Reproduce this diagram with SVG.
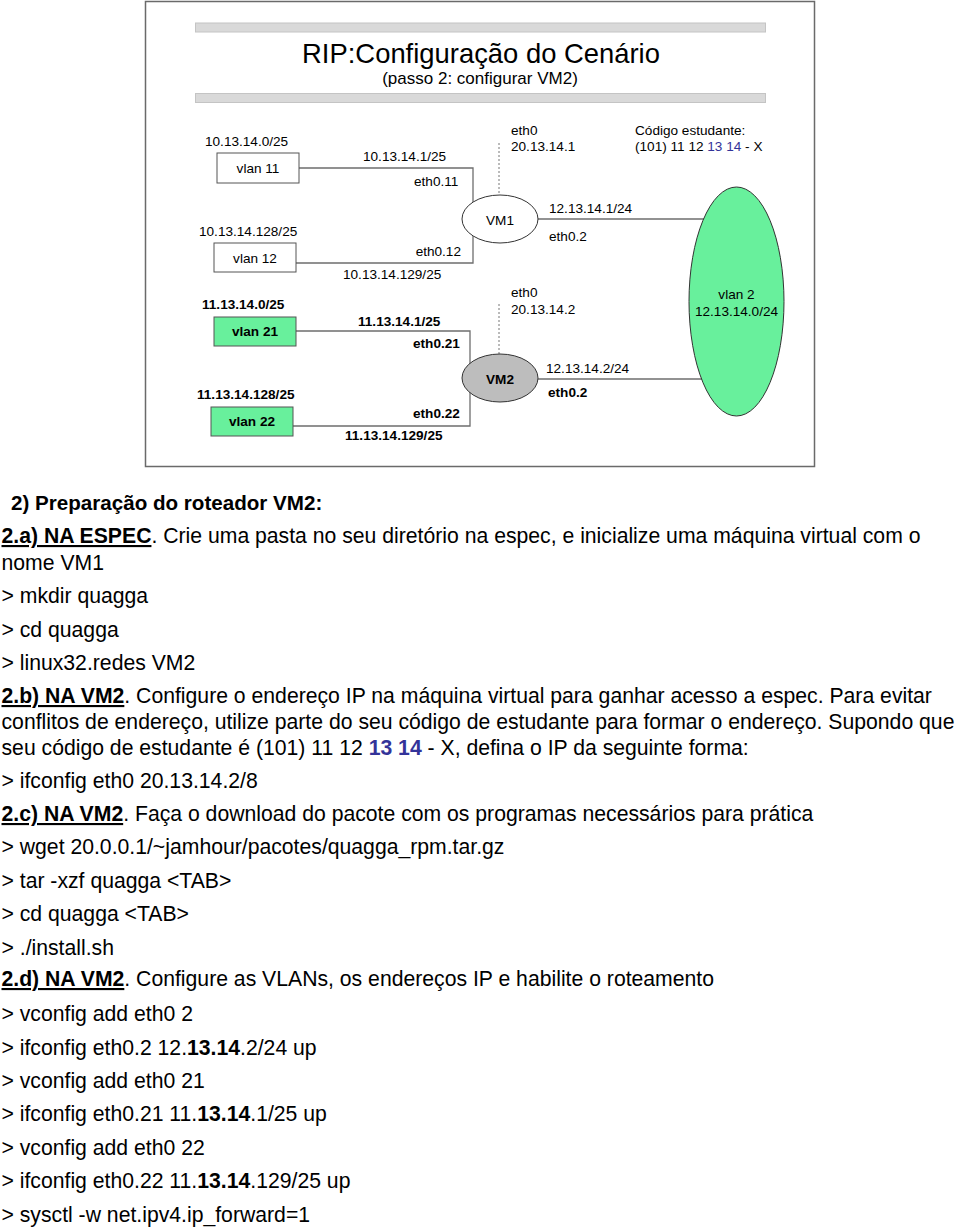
<svg xmlns="http://www.w3.org/2000/svg" width="960" height="1228" viewBox="0 0 960 1228">
<style>
text{font-family:"Liberation Sans",Arial,sans-serif;fill:#000}
.lb{font-size:13.6px}
.b{font-weight:bold}
.body{font-size:21.2px}
.head{font-size:20.6px;font-weight:bold}
.u{font-weight:bold;text-decoration:underline}
.blue{fill:#333399}
.ln{fill:none;stroke:#6e6e6e;stroke-width:1.3}
.dash{fill:none;stroke:#777;stroke-width:1;stroke-dasharray:2,2}
.box{fill:#fff;stroke:#555;stroke-width:1}
.gbox{fill:#68f09c;stroke:#555;stroke-width:1}
.bar{fill:#d9d9d9;stroke:#c4c4c4;stroke-width:1}
</style>
<rect x="0" y="0" width="960" height="1228" fill="#fff"/>
<rect x="145.5" y="1.5" width="669" height="465" fill="#fff" stroke="#6a6a6a" stroke-width="1.5"/>
<rect class="bar" x="195.5" y="23" width="570" height="9"/>
<rect class="bar" x="195.5" y="93.5" width="570" height="9"/>
<text x="481" y="63" font-size="27.4" text-anchor="middle">RIP:Configuração do Cenário</text>
<text x="480" y="84" font-size="17" text-anchor="middle">(passo 2: configurar VM2)</text>

<g id="connectors">
<polyline class="ln" points="299,168 473,168 473,263 296,263"/>
<polyline class="ln" points="296,331 470,331 470,426 293,426"/>
<line class="ln" x1="538" y1="219" x2="704" y2="219"/>
<line class="ln" x1="538" y1="379" x2="702" y2="379"/>
<line class="dash" x1="499" y1="143" x2="499" y2="195"/>
<line class="dash" x1="499" y1="304" x2="499" y2="354"/>
</g>

<g id="vlan11"><rect class="box" x="217" y="153" width="82" height="30"/><text class="lb" x="258" y="173" text-anchor="middle">vlan 11</text></g>
<g id="vlan12"><rect class="box" x="214" y="243" width="82" height="29"/><text class="lb" x="255" y="263" text-anchor="middle">vlan 12</text></g>
<g id="vlan21"><rect class="gbox" x="214" y="317" width="82" height="29"/><text class="lb b" x="255" y="336" text-anchor="middle">vlan 21</text></g>
<g id="vlan22"><rect class="gbox" x="211" y="407" width="82" height="29"/><text class="lb b" x="252" y="426" text-anchor="middle">vlan 22</text></g>
<g id="vm1"><ellipse cx="500" cy="219" rx="38" ry="24" fill="#fff" stroke="#333" stroke-width="1"/><text class="lb" x="500" y="225" text-anchor="middle">VM1</text></g>
<g id="vm2"><ellipse cx="500" cy="378" rx="38" ry="24" fill="#bdbdbd" stroke="#333" stroke-width="1"/><text class="lb b" x="500" y="384" text-anchor="middle">VM2</text></g>
<g id="vlan2"><ellipse cx="736.5" cy="301.5" rx="47.5" ry="114.5" fill="#68f09c" stroke="#333" stroke-width="1"/><text class="lb" x="736.5" y="299" text-anchor="middle">vlan 2</text><text class="lb" x="736.5" y="316" text-anchor="middle">12.13.14.0/24</text></g>

<g id="labels">
<text class="lb" x="205" y="146">10.13.14.0/25</text>
<text class="lb" x="363" y="161">10.13.14.1/25</text>
<text class="lb" x="414" y="186">eth0.11</text>
<text class="lb" x="199" y="236">10.13.14.128/25</text>
<text class="lb" x="461" y="256" text-anchor="end">eth0.12</text>
<text class="lb" x="343" y="279">10.13.14.129/25</text>
<text class="lb b" x="202" y="309">11.13.14.0/25</text>
<text class="lb b" x="358" y="326">11.13.14.1/25</text>
<text class="lb b" x="413" y="348">eth0.21</text>
<text class="lb b" x="197" y="399">11.13.14.128/25</text>
<text class="lb b" x="413" y="418">eth0.22</text>
<text class="lb b" x="345" y="440">11.13.14.129/25</text>
<text class="lb" x="511" y="135">eth0</text>
<text class="lb" x="511" y="151">20.13.14.1</text>
<text class="lb" x="635" y="135">Código estudante:</text>
<text class="lb" x="635" y="151">(101) 11 12 <tspan class="blue">13 14</tspan> - X</text>
<text class="lb" x="549" y="213">12.13.14.1/24</text>
<text class="lb" x="549" y="241">eth0.2</text>
<text class="lb" x="511" y="297">eth0</text>
<text class="lb" x="511" y="314">20.13.14.2</text>
<text class="lb" x="546" y="373">12.13.14.2/24</text>
<text class="lb b" x="548" y="397">eth0.2</text>
</g>

<g id="body">
<text class="head" x="11" y="510">2) Preparação do roteador VM2:</text>
<text class="body" x="1.5" y="543"><tspan class="u">2.a) NA ESPEC</tspan>. Crie uma pasta no seu diretório na espec, e inicialize uma máquina virtual com o</text>
<text class="body" x="1.5" y="570">nome VM1</text>
<text class="body" x="1.5" y="603">&gt; mkdir quagga</text>
<text class="body" x="1.5" y="637">&gt; cd quagga</text>
<text class="body" x="1.5" y="670">&gt; linux32.redes VM2</text>
<text class="body" x="1.5" y="703"><tspan class="u">2.b) NA VM2</tspan>. Configure o endereço IP na máquina virtual para ganhar acesso a espec. Para evitar</text>
<text class="body" x="1.5" y="729">conflitos de endereço, utilize parte do seu código de estudante para formar o endereço. Supondo que</text>
<text class="body" x="1.5" y="755">seu código de estudante é (101) 11 12 <tspan class="b blue">13 14</tspan> - X, defina o IP da seguinte forma:</text>
<text class="body" x="1.5" y="788">&gt; ifconfig eth0 20.13.14.2/8</text>
<text class="body" x="1.5" y="821"><tspan class="u">2.c) NA VM2</tspan>. Faça o download do pacote com os programas necessários para prática</text>
<text class="body" x="1.5" y="854">&gt; wget 20.0.0.1/~jamhour/pacotes/quagga_rpm.tar.gz</text>
<text class="body" x="1.5" y="888">&gt; tar -xzf quagga &lt;TAB&gt;</text>
<text class="body" x="1.5" y="921">&gt; cd quagga &lt;TAB&gt;</text>
<text class="body" x="1.5" y="955">&gt; ./install.sh</text>
<text class="body" x="1.5" y="986"><tspan class="u">2.d) NA VM2</tspan>. Configure as VLANs, os endereços IP e habilite o roteamento</text>
<text class="body" x="1.5" y="1021">&gt; vconfig add eth0 2</text>
<text class="body" x="1.5" y="1055">&gt; ifconfig eth0.2 12.<tspan class="b">13.14</tspan>.2/24 up</text>
<text class="body" x="1.5" y="1088">&gt; vconfig add eth0 21</text>
<text class="body" x="1.5" y="1121">&gt; ifconfig eth0.21 11.<tspan class="b">13.14</tspan>.1/25 up</text>
<text class="body" x="1.5" y="1155">&gt; vconfig add eth0 22</text>
<text class="body" x="1.5" y="1188">&gt; ifconfig eth0.22 11.<tspan class="b">13.14</tspan>.129/25 up</text>
<text class="body" x="1.5" y="1222">&gt; sysctl -w net.ipv4.ip_forward=1</text>
</g>
</svg>
